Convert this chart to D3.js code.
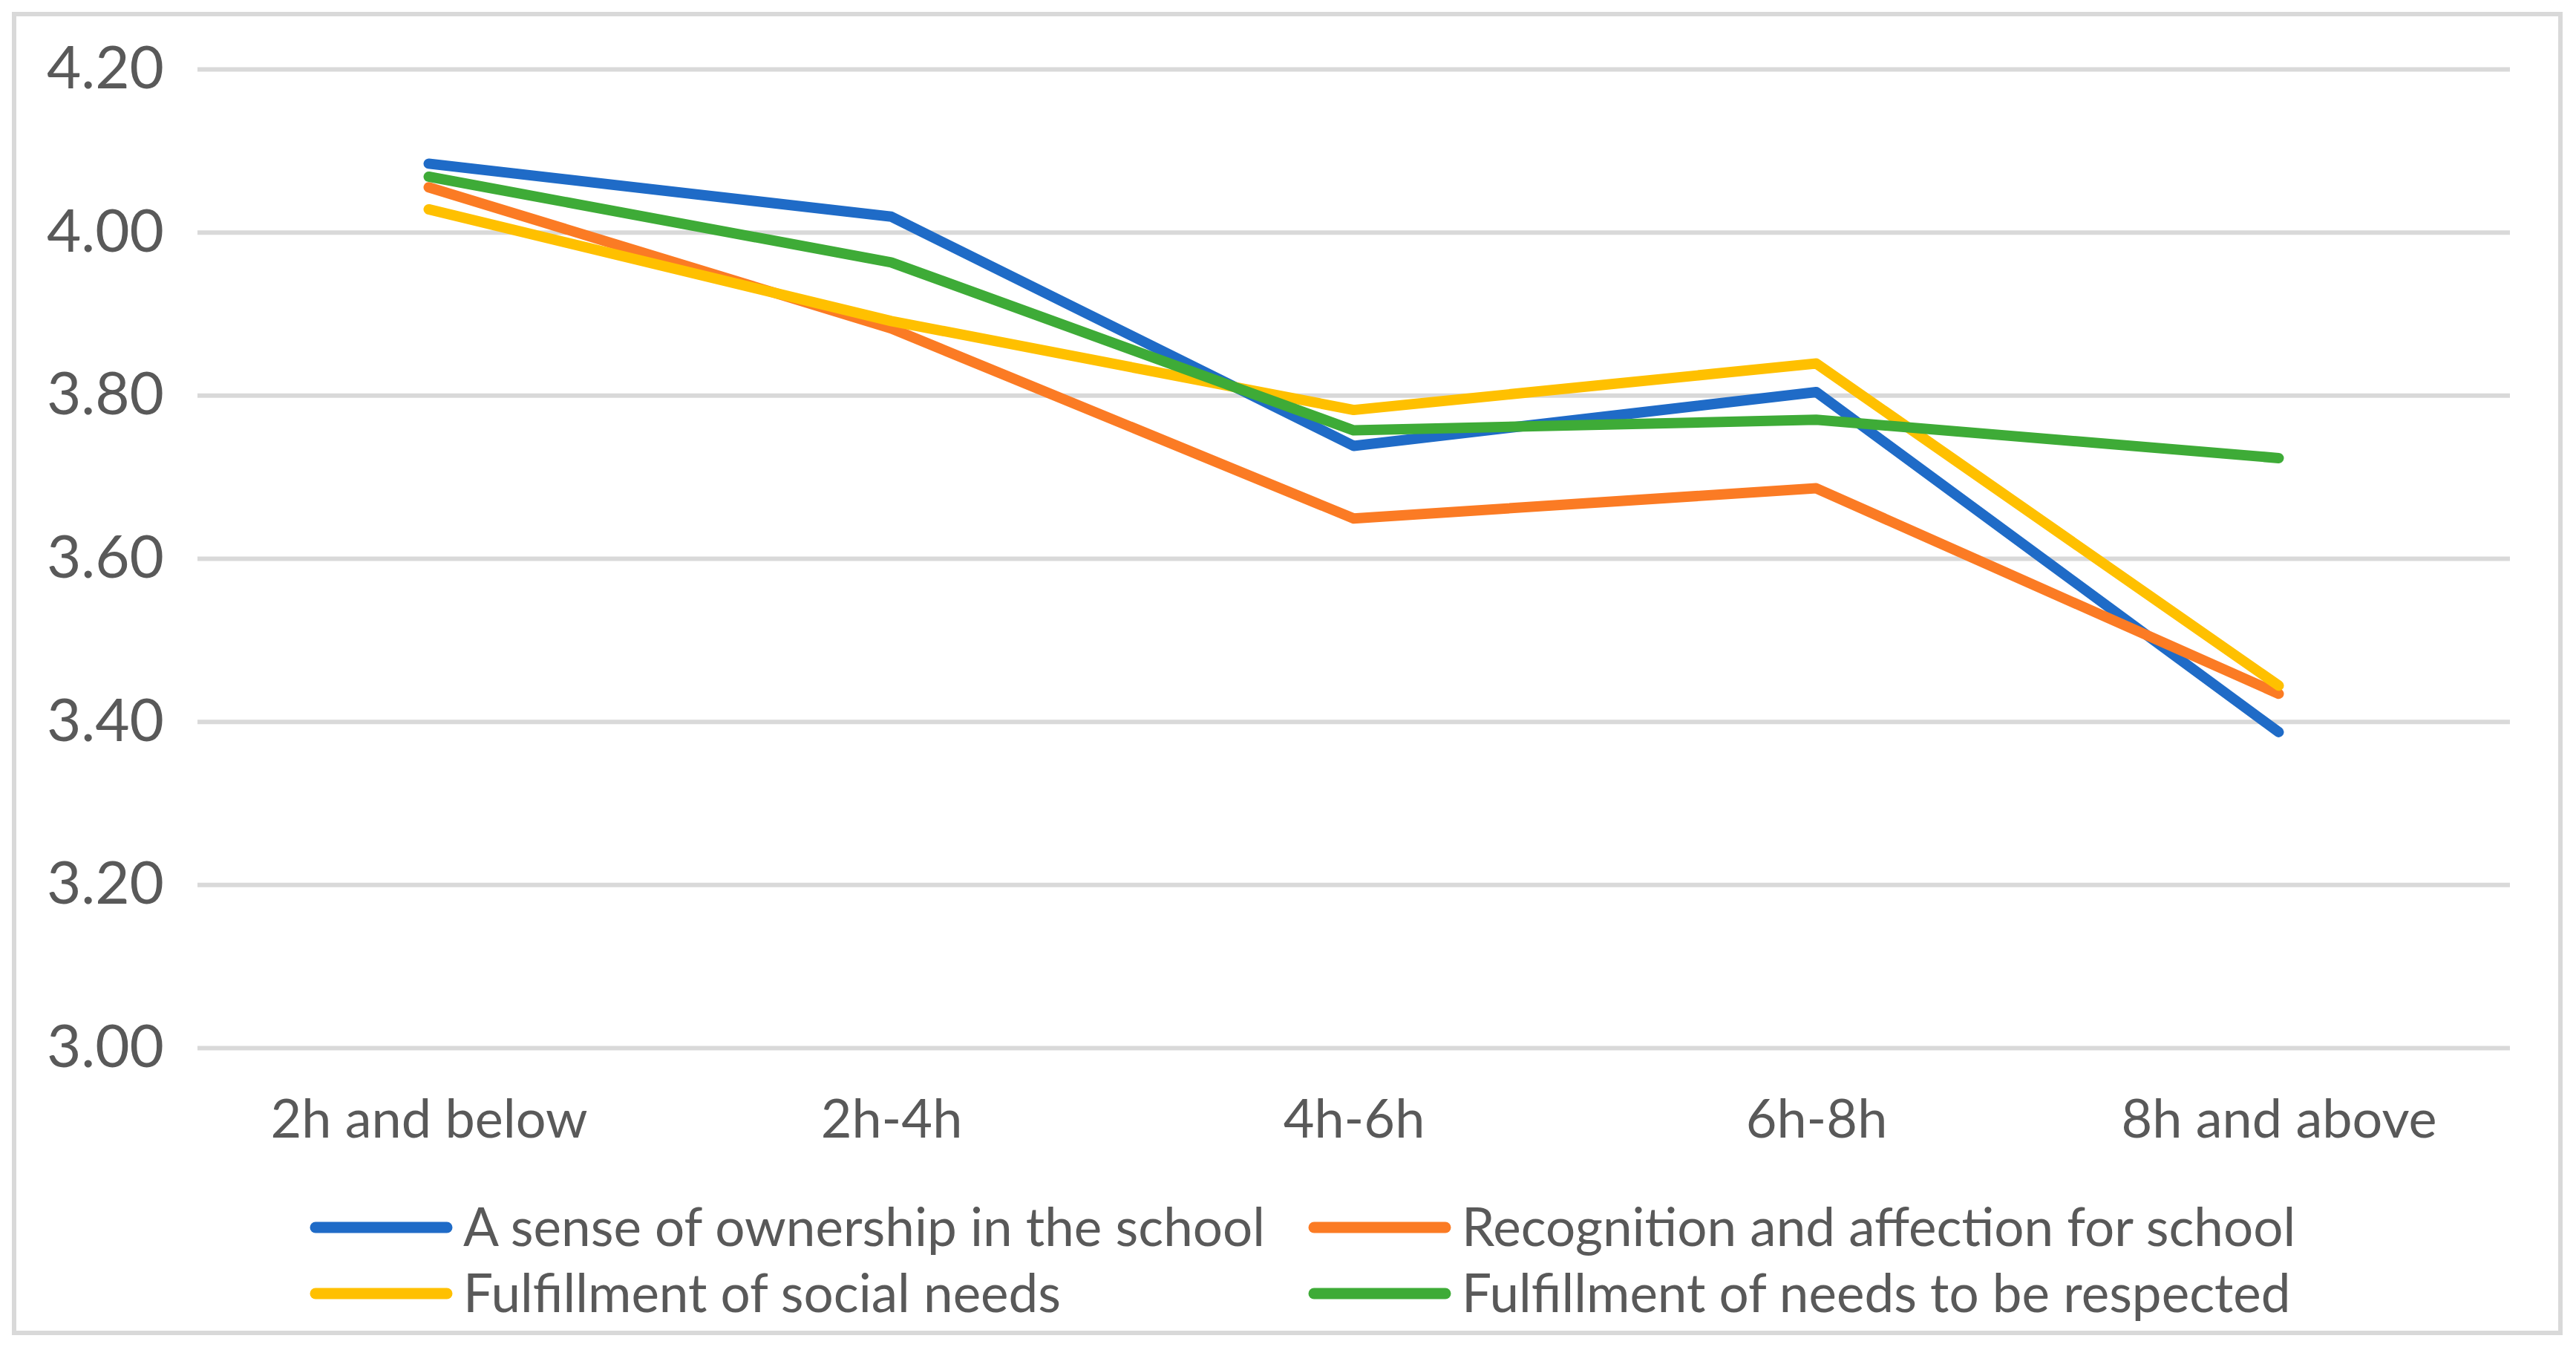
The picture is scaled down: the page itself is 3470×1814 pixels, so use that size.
<!DOCTYPE html>
<html>
    <head>
        <style>
            body { margin: 0; background: #fff; }
            .axis text { font-family: Lato, "Noto Sans", sans-serif; fill: #595959; }
            .axis path { display: none; }
            .grid line { stroke: #d9d9d9; stroke-width: 6; }
            .legend text { font-family: Lato, "Noto Sans", sans-serif; fill: #595959; font-size: 71px; }
        </style>
    <script src="https://d3js.org/d3.v7.min.js"></script>
    <script>
        // values
        var categories = ["2h and below", "2h-4h", "4h-6h", "6h-8h", "8h and above"];
        var seriesNames = [
            "A sense of ownership in the school",
            "Recognition and affection for school",
            "Fulfillment of social needs",
            "Fulfillment of needs to be respected"
        ];
        var ownership   = [4.084, 4.019, 3.738, 3.804, 3.387];
        var recognition = [4.055, 3.882, 3.649, 3.686, 3.434];
        var social      = [4.028, 3.891, 3.782, 3.839, 3.444];
        var respected   = [4.068, 3.963, 3.757, 3.770, 3.723];
        var yTicks = [3.0, 3.2, 3.4, 3.6, 3.8, 4.0, 4.2];
        var colors = ["#1f6bc7", "#fb7b24", "#ffc000", "#3eab37"];

        function load () {
            var width = 3470, height = 1814;
            var left = 266, right = 3381, top = 93, bottom = 1411;

            var svg = d3.select('body')
                .append('svg')
                .attr("width", width)
                .attr("height", height);

            // outer frame
            svg.append("rect")
                .attr("x", 19).attr("y", 19)
                .attr("width", 3430).attr("height", 1776)
                .attr("fill", "#fff")
                .attr("stroke", "#d9d9d9")
                .attr("stroke-width", 6);

            var x = d3.scalePoint().domain(categories).range([left, right]).padding(0.5);
            var y = d3.scaleLinear().domain([3.0, 4.2]).range([bottom, top]);

            var yAxis = svg.append("g")
                .attr("class", "axis grid")
                .attr("transform", "translate(" + left + ",0)")
                .call(d3.axisLeft(y).tickValues(yTicks).tickFormat(d3.format(".2f"))
                    .tickSize(-(right - left)).tickPadding(45));
            yAxis.selectAll("text").style("font-size", "80px");

            var xAxis = svg.append("g")
                .attr("class", "axis")
                .attr("transform", "translate(0," + bottom + ")")
                .call(d3.axisBottom(x).tickSize(0).tickPadding(70));
            xAxis.selectAll("text").style("font-size", "72px");

            var all = [ownership, recognition, social, respected];
            var line = d3.line()
                .x(function (d, i) { return x(categories[i]); })
                .y(function (d) { return y(d); });

            // same drawing order as the original: blue, orange, yellow, green
            svg.selectAll(".series")
                .data(all)
                .enter()
                .append("path")
                .attr("class", "series")
                .attr("d", line)
                .attr("fill", "none")
                .attr("stroke", function (d, i) { return colors[i]; })
                .attr("stroke-width", 14)
                .attr("stroke-linecap", "round")
                .attr("stroke-linejoin", "round");

            // legend, two rows of two
            var legendX = [425, 1770], legendY = [1653, 1742];
            var item = svg.append("g").attr("class", "legend")
                .selectAll("g")
                .data(seriesNames)
                .enter()
                .append("g")
                .attr("transform", function (d, i) {
                    return "translate(" + legendX[i % 2] + "," + legendY[Math.floor(i / 2)] + ")";
                });
            item.append("line")
                .attr("x1", 0).attr("x2", 177)
                .attr("stroke", function (d, i) { return colors[i]; })
                .attr("stroke-width", 15)
                .attr("stroke-linecap", "round");
            item.append("text")
                .attr("x", 199)
                .attr("dy", "0.35em")
                .text(function (d) { return d; });
        }
    </script>
    </head>
    <body onload="load()">
    </body>
</html>
